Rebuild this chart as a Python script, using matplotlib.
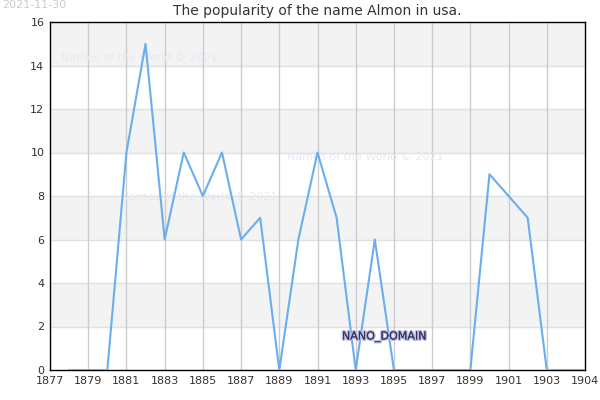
import matplotlib
matplotlib.use("Agg")
import matplotlib.pyplot as plt
import matplotlib.patheffects as pe

years = [1878, 1879, 1880, 1881, 1882, 1883, 1884, 1885, 1886, 1887, 1888, 1889,
         1890, 1891, 1892, 1893, 1894, 1895, 1896, 1897, 1898, 1899, 1900, 1902,
         1903, 1904, 1905]
counts = [0, 0, 0, 10, 15, 6, 10, 8, 10, 6, 7, 0,
          6, 10, 7, 0, 6, 0, 0, 0, 0, 0, 9, 7,
          0, 0, 0]
xticks = list(range(1877, 1905, 2)) + [1905]
xticklabels = [str(y) for y in range(1877, 1905, 2)] + ["1904"]
yticks = [0, 2, 4, 6, 8, 10, 12, 14, 16]

fig = plt.figure(figsize=(6, 4), dpi=100)
ax = fig.add_axes([50/600, 30/400, 535/600, 348/400])
ax.set_xlim(1877, 1905)
ax.set_ylim(0, 16)

for i in range(len(yticks) - 1):
    if i % 2 == 1:
        ax.axhspan(yticks[i], yticks[i+1], color="#f3f3f3", zorder=0, lw=0)
for y in yticks[1:-1]:
    ax.axhline(y, color="#e0e0e0", lw=1, zorder=1)
for x in xticks[1:-1]:
    ax.axvline(x, color="#cccccc", lw=1, zorder=1)

ax.plot(years, counts, color="#6aaef0", lw=1.5, zorder=3)

ax.set_xticks(xticks)
ax.set_xticklabels(xticklabels)
ax.set_yticks(yticks)
ax.tick_params(labelsize=8, colors="#333333", length=0, pad=4)
for s in ax.spines.values():
    s.set_color("black")
    s.set_linewidth(1)

ax.set_title("The popularity of the name Almon in usa.", fontsize=10, color="#333333", pad=5)

wm = dict(fontsize=8, color="#e8e8f5", zorder=2, va="center")
ax.text(1877.6, 14.35, "Names of the World © 2021", **wm)
ax.text(1880.7, 7.95, "Names of the World © 2021", **wm)
ax.text(1889.4, 9.8, "Names of the World © 2021", **wm)

fig.text(2/600, 1 - 5/400, "2021-11-30", fontsize=8, color="#cccccc", va="center")

t = ax.text(1894.5, 1.52, "NANO_DOMAIN", fontsize=8, color="#333366", ha="center",
            va="center", zorder=4)
t.set_path_effects([pe.withStroke(linewidth=2, foreground="#bbbbdd"), pe.Normal()])

fig.savefig("out.png", dpi=100)
